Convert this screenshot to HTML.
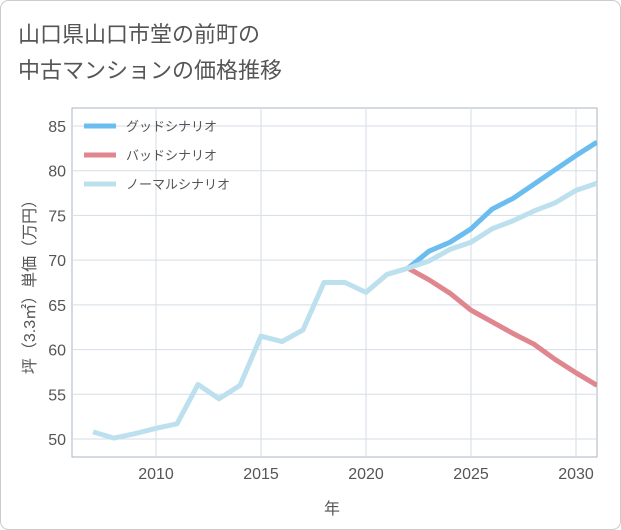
<!DOCTYPE html>
<html><head><meta charset="utf-8"><style>
body{margin:0;background:#fff;}
svg{display:block;font-family:"Liberation Sans","Noto Sans CJK JP",sans-serif;}
</style></head><body>
<svg id="c" width="621" height="530">
<rect x="0.5" y="0.5" width="620" height="529" rx="8" fill="#fff" stroke="#ccc"/>
<text x="18" y="42" font-size="22" fill="#555">山口県山口市堂の前町の</text>
<text x="18" y="78" font-size="22" fill="#555">中古マンションの価格推移</text>
<g id="grid"></g><g id="series"></g><g id="legend"></g>
<text x="332" y="514" font-size="16" fill="#555" text-anchor="middle">年</text>
<text transform="translate(35,283) rotate(-90)" font-size="16" fill="#555" text-anchor="middle">坪（3.3㎡）単価（万円）</text>
</svg>
<script>
const years=[2007,2008,2009,2010,2011,2012,2013,2014,2015,2016,2017,2018,2019,2020,2021,2022,2023,2024,2025,2026,2027,2028,2029,2030,2031];
const normal=[50.8,50.1,50.6,51.2,51.7,56.1,54.5,56.0,61.5,60.9,62.2,67.5,67.5,66.4,68.4,69.1,69.9,71.2,72.0,73.5,74.4,75.5,76.4,77.8,78.6];
const futureYears=[2022,2023,2024,2025,2026,2027,2028,2029,2030,2031];
const good=[69.1,71.0,72.0,73.5,75.7,76.9,78.5,80.1,81.7,83.2];
const bad=[69.1,67.8,66.3,64.4,63.1,61.8,60.6,58.9,57.4,56.0];
const xTicks=[2010,2015,2020,2025,2030];
const yTicks=[50,55,60,65,70,75,80,85];
const L=72,R=597,T=108,B=457;
const X=y=>156+(y-2010)*(576-156)/20;
const Y=v=>439-(v-50)*(439-126)/35;
const ns='http://www.w3.org/2000/svg';
function mk(p,t,a){const e=document.createElementNS(ns,t);for(const k in a)e.setAttribute(k,a[k]);p.appendChild(e);return e;}
const g=document.getElementById('grid');
const bg=mk(g,'rect',{x:L,y:T,width:R-L,height:B-T,fill:'#fff',stroke:'#aab4c0'});


xTicks.forEach(t=>{const l=mk(g,'line',{x1:X(t),x2:X(t),y1:T,y2:B,stroke:'#d5dde5'});


const s=mk(g,'text',{x:X(t),y:B+22,'font-size':16,fill:'#555','text-anchor':'middle'});s.textContent=t;

});
yTicks.forEach(t=>{const l=mk(g,'line',{x1:L,x2:R,y1:Y(t),y2:Y(t),stroke:'#d5dde5'});


const s=mk(g,'text',{x:L-6,y:Y(t)+6,'font-size':16,fill:'#555','text-anchor':'end'});s.textContent=t;

});
const sg=document.getElementById('series');
function line(xs,vs,c,n){const p=mk(sg,'polyline',{points:xs.map((x,i)=>X(x)+','+Y(vs[i])).join(' '),fill:'none',stroke:c,'stroke-width':5,'stroke-linejoin':'round'});

}
const cp=mk(sg,'clipPath',{id:'cl'});mk(cp,'rect',{x:L,y:T,width:R-L,height:B-T});sg.setAttribute('clip-path','url(#cl)');
line(futureYears,good,'#6bbdf0','good-scenario-line');
line(futureYears,bad,'#e0868e','bad-scenario-line');
line(years,normal,'#bde0ee','normal-scenario-line');
const lg=document.getElementById('legend');
[['グッドシナリオ','#6bbdf0'],['バッドシナリオ','#e0868e'],['ノーマルシナリオ','#bde0ee']].forEach((d,i)=>{
const y=126+i*29;
const l=mk(lg,'line',{x1:84,x2:116,y1:y,y2:y,stroke:d[1],'stroke-width':5});


const t=mk(lg,'text',{x:126,y:y+5,'font-size':13,fill:'#555'});t.textContent=d[0];

});
</script>
</body></html>
